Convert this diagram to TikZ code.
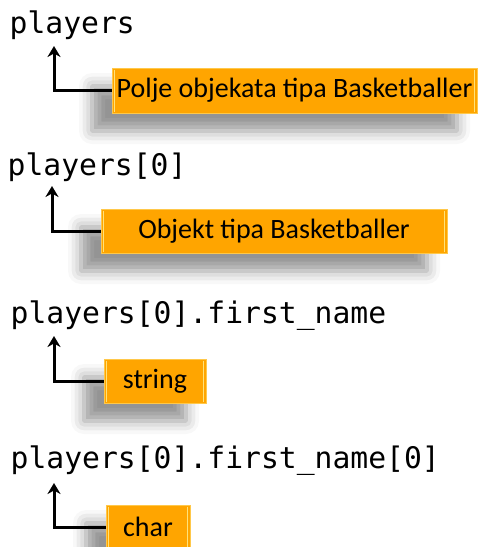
\documentclass[tikz,border=0pt]{standalone}
\usepackage{fontspec}
\setmainfont{Carlito}
\newfontfamily\codefont{DejaVu Sans Mono}
\usetikzlibrary{arrows.meta,shadows.blur}
\definecolor{boxorange}{HTML}{FFA500}
\definecolor{boxedge}{HTML}{FFC84A}
\definecolor{boxshine}{HTML}{FFE27A}
\tikzset{
  code/.style={anchor=base west, inner sep=0pt, font=\codefont\fontsize{29.7}{32}\selectfont},
  typebox/.style={rectangle, fill=boxorange, draw=boxedge, line width=1pt,
    inner sep=0pt, font=\fontsize{28}{30}\selectfont, text=black,
    blur shadow={shadow xshift=-20pt, shadow yshift=-18pt, shadow blur radius=13pt, shadow opacity=42}},
  pointer/.style={line width=3pt, -{Stealth[length=11pt,width=13pt,inset=3.5pt]}},
}
% light bevel strips inside the left and right edges of a box
\newcommand{\bevel}[1]{%
  \draw[boxshine, line width=1.2pt] ([xshift=3pt,yshift=-2pt]#1.north west) -- ([xshift=3pt,yshift=2pt]#1.south west);
  \draw[boxshine, line width=1.2pt] ([xshift=-3pt,yshift=-2pt]#1.north east) -- ([xshift=-3pt,yshift=2pt]#1.south east);
}
\begin{document}
\begin{tikzpicture}[x=1pt,y=-1pt]
  \useasboundingbox (0,0) rectangle (479,547);

  % expressions
  \node[code] (e1) at (9.5,33)  {players};
  \node[code] (e2) at (7.5,175) {players[0]};
  \node[code] (e3) at (10.5,323) {players[0].first\_name};
  \node[code] (e4) at (10.5,468) {players[0].first\_name[0]};

  % arrow tips just below each expression
  \coordinate (t1) at (54,46);
  \coordinate (t2) at (52,186);
  \coordinate (t3) at (54,336);
  \coordinate (t4) at (54,483);

  % type boxes
  \node[typebox, minimum width=365pt, minimum height=45pt] (b1) at (294.5,90.5) {Polje objekata tipa Basketballer};
  \node[typebox, minimum width=346pt, minimum height=44pt] (b2) at (274,231) {Objekt tipa Basketballer};
  \node[typebox, minimum width=102pt, minimum height=44pt] (b3) at (155,381) {string};
  \node[typebox, minimum width=84pt, minimum height=44pt] (b4) at (148,527) {char};
  \bevel{b1}\bevel{b2}\bevel{b3}\bevel{b4}

  % pointers from each box up to its expression
  \draw[pointer] (b1.west) -| (t1);
  \draw[pointer] (b2.west) -| (t2);
  \draw[pointer] (b3.west) -| (t3);
  \draw[pointer] (b4.west) -| (t4);
\end{tikzpicture}
\end{document}
